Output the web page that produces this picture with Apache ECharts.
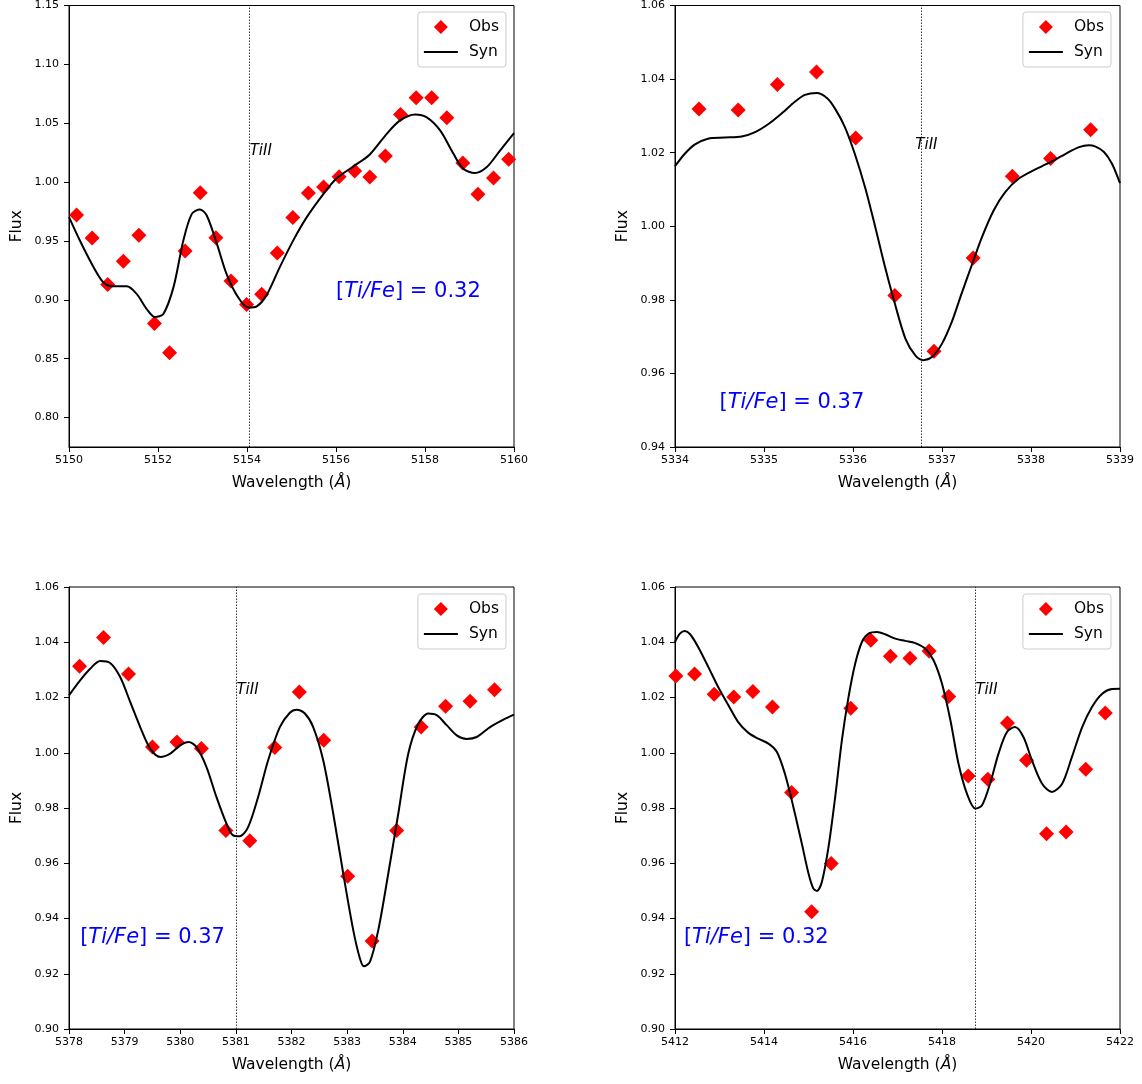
<!DOCTYPE html>
<html>
<head>
<meta charset="utf-8">
<script src="https://cdn.jsdelivr.net/npm/echarts@6/dist/echarts.min.js"></script>
<style>
html,body{margin:0;padding:0;background:#fff;}
#chart{width:1142px;height:1084px;}
</style>
</head>
<body>
<div id="chart"></div>
<script>
// ---------- Panel 1 (Ti II 5154) ----------
const obs1X = [5150.17,5150.52,5150.87,5151.22,5151.57,5151.92,5152.26,5152.61,5152.95,5153.30,5153.64,5153.99,5154.33,5154.68,5155.03,5155.38,5155.72,5156.07,5156.42,5156.76,5157.11,5157.45,5157.80,5158.15,5158.49,5158.85,5159.19,5159.54,5159.88];
const obs1Y = [0.972,0.9525,0.913,0.9327,0.9548,0.8798,0.855,0.9415,0.991,0.9528,0.916,0.896,0.9047,0.9398,0.970,0.9907,0.9958,1.0046,1.0094,1.0043,1.0221,1.0575,1.0716,1.0716,1.0546,1.0162,0.9896,1.0034,1.0195];
const syn1X = [5150.0,5150.25,5150.55,5150.77,5151.0,5151.3,5151.52,5151.75,5151.93,5152.12,5152.35,5152.57,5152.76,5152.94,5153.09,5153.32,5153.54,5153.77,5154.03,5154.22,5154.44,5154.74,5155.04,5155.34,5155.72,5156.01,5156.39,5156.76,5157.14,5157.44,5157.78,5158.04,5158.34,5158.64,5158.86,5159.12,5159.39,5159.69,5160.0];
const syn1Y = [0.9703,0.950,0.9279,0.915,0.9115,0.9115,0.905,0.892,0.8854,0.888,0.911,0.9505,0.973,0.9768,0.972,0.948,0.922,0.904,0.8934,0.8945,0.904,0.928,0.9505,0.970,0.990,1.003,1.0133,1.0235,1.041,1.0524,1.0575,1.055,1.0439,1.024,1.0113,1.0077,1.0128,1.027,1.0416];

// ---------- Panel 2 (Ti II 5336.8) ----------
const obs2X = [5334.27,5334.71,5335.15,5335.59,5336.03,5336.47,5336.91,5337.35,5337.79,5338.22,5338.67];
const obs2Y = [1.0319,1.0316,1.0385,1.0419,1.024,0.9812,0.966,0.9914,1.0136,1.0184,1.0262];
const syn2X = [5334.0,5334.11,5334.22,5334.37,5334.56,5334.75,5334.9,5335.05,5335.2,5335.35,5335.46,5335.59,5335.71,5335.8,5335.91,5336.02,5336.14,5336.25,5336.36,5336.47,5336.59,5336.7,5336.79,5336.89,5337.0,5337.11,5337.22,5337.34,5337.45,5337.58,5337.71,5337.86,5338.01,5338.2,5338.39,5338.54,5338.65,5338.72,5338.82,5338.91,5339.0];
const syn2Y = [1.0163,1.0197,1.0222,1.0238,1.0241,1.0244,1.0256,1.0278,1.0307,1.0339,1.0357,1.0362,1.0348,1.0319,1.0269,1.0197,1.0102,0.9998,0.9889,0.979,0.9694,0.9649,0.9636,0.9645,0.9681,0.974,0.9817,0.9898,0.9971,1.0043,1.0093,1.0129,1.015,1.0172,1.0197,1.0215,1.022,1.0217,1.0202,1.017,1.0117];

// ---------- Panel 3 (Ti II 5381) ----------
const obs3X = [5378.19,5378.62,5379.07,5379.50,5379.94,5380.38,5380.82,5381.25,5381.70,5382.14,5382.58,5383.01,5383.45,5383.89,5384.33,5384.77,5385.21,5385.65];
const obs3Y = [1.0313,1.0417,1.0285,1.0021,1.0039,1.0015,0.9719,0.9681,1.0019,1.022,1.0045,0.9553,0.9319,0.9719,1.0093,1.0168,1.0186,1.0228];
const syn3X = [5378.0,5378.2,5378.38,5378.56,5378.74,5378.92,5379.1,5379.28,5379.46,5379.64,5379.82,5380.0,5380.15,5380.29,5380.47,5380.65,5380.83,5380.95,5381.07,5381.22,5381.4,5381.58,5381.79,5381.97,5382.09,5382.24,5382.39,5382.57,5382.75,5382.93,5383.11,5383.23,5383.3,5383.41,5383.56,5383.74,5383.92,5384.1,5384.28,5384.46,5384.61,5384.79,5384.97,5385.15,5385.33,5385.57,5385.81,5386.0];
const syn3Y = [1.0208,1.0262,1.0304,1.0332,1.0325,1.0274,1.0184,1.0093,1.0015,0.9985,0.9997,1.0027,1.0039,1.0021,0.9949,0.984,0.9744,0.9701,0.9698,0.9731,0.984,0.9973,1.0093,1.0145,1.0156,1.0142,1.0093,0.9973,0.978,0.9563,0.9358,0.9255,0.9227,0.9243,0.9358,0.9563,0.978,0.9997,1.0105,1.0142,1.0136,1.01,1.0063,1.005,1.0057,1.0093,1.012,1.0138];

// ---------- Panel 4 (Ti II 5418.8) ----------
const obs4X = [5412.02,5412.44,5412.88,5413.32,5413.75,5414.19,5414.62,5415.07,5415.51,5415.95,5416.40,5416.84,5417.28,5417.71,5418.15,5418.59,5419.03,5419.47,5419.90,5420.35,5420.79,5421.23,5421.67];
const obs4Y = [1.0278,1.0285,1.0212,1.0202,1.0222,1.0166,0.9856,0.9424,0.9599,1.0161,1.0407,1.0349,1.0342,1.0368,1.0204,0.9916,0.9904,1.0108,0.9973,0.9707,0.9713,0.994,1.0144];
const syn4X = [5412.0,5412.11,5412.22,5412.34,5412.52,5412.75,5412.97,5413.2,5413.42,5413.65,5413.87,5414.1,5414.29,5414.47,5414.66,5414.85,5415.0,5415.11,5415.19,5415.3,5415.45,5415.6,5415.75,5415.9,5416.05,5416.2,5416.35,5416.54,5416.72,5416.95,5417.17,5417.4,5417.62,5417.81,5418.0,5418.19,5418.37,5418.56,5418.75,5418.9,5419.08,5419.27,5419.46,5419.64,5419.83,5420.02,5420.25,5420.47,5420.7,5420.92,5421.15,5421.37,5421.6,5421.82,5422.0];
const syn4Y = [1.0401,1.0431,1.0441,1.0429,1.0383,1.031,1.0238,1.0172,1.0111,1.0072,1.0051,1.0033,1.0003,0.9924,0.9804,0.9671,0.9563,0.9508,0.95,0.9532,0.9659,0.984,1.0045,1.0202,1.0323,1.0401,1.0431,1.0437,1.0429,1.0413,1.0405,1.0397,1.0377,1.0335,1.025,1.0117,0.9961,0.9852,0.9798,0.981,0.9888,0.9997,1.0075,1.0093,1.0057,0.9973,0.9888,0.9858,0.9888,0.9985,1.0093,1.0166,1.0214,1.0231,1.0232];

// ---------- Axes / annotations ----------
const xRanges = [[5150,5160,2],[5334,5339,1],[5378,5386,1],[5412,5422,2]];
const yRanges = [[0.775,1.15],[0.94,1.06],[0.90,1.06],[0.90,1.06]];
const yTicks1 = [0.80,0.85,0.90,0.95,1.00,1.05,1.10,1.15];
const yTicks2 = [0.94,0.96,0.98,1.00,1.02,1.04,1.06];
const yTicks34 = [0.90,0.92,0.94,0.96,0.98,1.00,1.02,1.04,1.06];
const lineCenters = [5154.06,5336.77,5381.01,5418.75];
const lineLabelPos = [[5154.06,1.0263],[5336.70,1.022],[5381.01,1.0227],[5418.75,1.0227]];
const abundText = ['0.32','0.37','0.37','0.32'];
const abundPos = [[5156.0,0.9068],[5334.5,0.9522],[5378.2,0.933],[5412.2,0.933]];

const FONT = "'DejaVu Sans', sans-serif";
const grids = [
  {left:69, top:5, width:445, height:442},
  {left:675, top:5, width:445, height:442},
  {left:69, top:587, width:445, height:442},
  {left:675, top:587, width:445, height:442}
];
const obsX = [obs1X,obs2X,obs3X,obs4X], obsY = [obs1Y,obs2Y,obs3Y,obs4Y];
const synX = [syn1X,syn2X,syn3X,syn4X], synY = [syn1Y,syn2Y,syn3Y,syn4Y];
const yTickSets = [yTicks1,yTicks2,yTicks34,yTicks34];
const zip = (a,b)=>a.map((v,i)=>[v,b[i]]);

const DIAMOND_ICON = 'path://M7,0 L14,7 L7,14 L0,7 Z';
const LINE_ICON = 'path://M0,0 L34,0 L34,2 L0,2 Z';

const xAxes = [], yAxes = [], series = [], legends = [];
grids.forEach((g,i)=>{
  g.show = true; g.borderColor = '#000'; g.borderWidth = 1; g.backgroundColor = '#fff';
  xAxes.push({
    type:'value', gridIndex:i, min:xRanges[i][0], max:xRanges[i][1], interval:xRanges[i][2],
    splitLine:{show:false},
    axisLine:{show:true, onZero:false, lineStyle:{color:'#000', width:1}},
    axisTick:{show:true, length:5, lineStyle:{color:'#000'}},
    axisLabel:{color:'#000', fontFamily:FONT, fontSize:11, margin:8, formatter:v=>String(Math.round(v))},
    name:'Wavelength ({it|Å})', nameLocation:'middle', nameGap:28,
    nameTextStyle:{color:'#000', fontFamily:FONT, fontSize:15.5, rich:{it:{fontStyle:'italic', fontFamily:FONT, fontSize:15.5, color:'#000'}}}
  });
  yAxes.push({
    type:'value', gridIndex:i, min:yRanges[i][0], max:yRanges[i][1],
    splitLine:{show:false},
    axisLine:{show:true, onZero:false, lineStyle:{color:'#000', width:1}},
    axisTick:{show:true, length:5, lineStyle:{color:'#000'}, customValues:yTickSets[i]},
    axisLabel:{color:'#000', fontFamily:FONT, fontSize:11, margin:10, customValues:yTickSets[i], formatter:v=>v.toFixed(2)},
    name:'Flux', nameLocation:'middle', nameGap:44,
    nameTextStyle:{color:'#000', fontFamily:FONT, fontSize:15.5}
  });
  series.push({
    name:'Obs', type:'scatter', xAxisIndex:i, yAxisIndex:i, symbol:'diamond', symbolSize:15,
    itemStyle:{color:'#ff0000', opacity:1}, data:zip(obsX[i],obsY[i]), z:3
  });
  series.push({
    name:'Syn', type:'line', xAxisIndex:i, yAxisIndex:i, symbol:'none', smooth:0.3,
    lineStyle:{color:'#000', width:2}, itemStyle:{color:'#000'}, data:zip(synX[i],synY[i]), z:4,
    markLine:{silent:true, symbol:['none','none'], label:{show:false},
      lineStyle:{color:'#000', type:[1.5,1.5], width:0.8, opacity:1}, data:[{xAxis:lineCenters[i]}]}
  });
  series.push({
    type:'scatter', xAxisIndex:i, yAxisIndex:i, symbolSize:0, silent:true,
    itemStyle:{color:'transparent', opacity:1}, data:[lineLabelPos[i]],
    label:{show:true, position:[0,0], align:'left', verticalAlign:'middle', formatter:'TiII',
      fontFamily:FONT, fontStyle:'italic', fontSize:15, color:'#000'}
  });
  series.push({
    type:'scatter', xAxisIndex:i, yAxisIndex:i, symbolSize:0, silent:true,
    itemStyle:{color:'transparent', opacity:1}, data:[abundPos[i]],
    label:{show:true, position:[0,0], align:'left', verticalAlign:'middle',
      formatter:'{n|[}{i|Ti/Fe}{n|] = ' + abundText[i] + '}',
      rich:{n:{fontFamily:FONT, fontSize:21, color:'#0000ff'}, i:{fontFamily:FONT, fontSize:21, fontStyle:'italic', color:'#0000ff'}}}
  });
  legends.push({
    show:true, orient:'vertical',
    right: (i%2===0) ? 636 : 31,
    top: g.top + 7,
    data:[{name:'Obs', icon:DIAMOND_ICON},{name:'Syn', icon:LINE_ICON}],
    itemWidth:34, itemHeight:14, itemGap:9, symbolKeepAspect:true,
    padding:[7,7,7,6],
    borderColor:'#cccccc', borderWidth:1, borderRadius:3, backgroundColor:'rgba(255,255,255,0.8)',
    selectedMode:false,
    textStyle:{fontFamily:FONT, fontSize:15.5, color:'#000', padding:[0,0,0,6]}
  });
});

const chart = echarts.init(document.getElementById('chart'), null, {renderer:'canvas'});
chart.setOption({
  animation:false,
  backgroundColor:'#fff',
  grid:grids, xAxis:xAxes, yAxis:yAxes, series:series, legend:legends
});
</script>
</body>
</html>
